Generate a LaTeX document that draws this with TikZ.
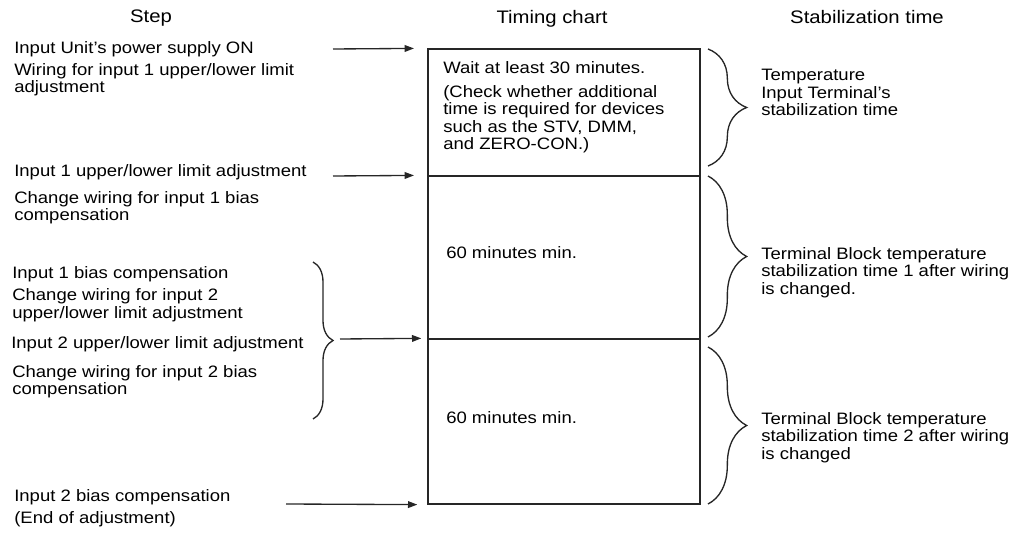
\documentclass[tikz,border=0pt]{standalone}
\usepackage{fontspec}
\setmainfont[FakeStretch=1.12]{Liberation Sans}
\usetikzlibrary{arrows.meta,decorations.pathreplacing,fit}
\newcommand{\chartfont}{\fontsize{12.4}{13.1}\selectfont}
\newcommand{\headfont}{\fontsize{13.6}{14}\selectfont}
\tikzset{
  head/.style={anchor=north, inner sep=0pt, font=\headfont},
  steptxt/.style={anchor=north west, inner sep=0pt, align=left, font=\chartfont},
  sect/.style={draw=black!85, line width=1pt, inner sep=0pt},
  flowarr/.style={-{Triangle[length=7pt,width=5pt]}, line width=1pt, draw=black!85},
  curly/.style={decorate, decoration={brace, amplitude=#1}, line width=1pt, draw=black!85},
}
\begin{document}
\begin{tikzpicture}[x=0.75pt,y=-0.75pt]
  \useasboundingbox (0,0) rectangle (1018,534);
  % column heads
  \node[head] (hstep) at (151,10) {Step};
  \node[head] (htime) at (552,10) {Timing chart};
  \node[head] (hstab) at (867,10) {Stabilization time};
  % timing chart
  \node[sect,fit={(428,49) (700,176)}] (sec1) {};
  \node[sect,fit={(428,176) (700,339)}] (sec2) {};
  \node[sect,fit={(428,339) (700,504)}] (sec3) {};
  \node[steptxt] (wait) at (443,61) {Wait at least 30 minutes.};
  \node[steptxt] (check) at (443,85) {(Check whether additional\\time is required for devices\\such as the STV, DMM,\\and ZERO-CON.)};
  \node[steptxt] (min1) at (446,246) {60 minutes min.};
  \node[steptxt] (min2) at (446,411) {60 minutes min.};
  % steps
  \node[steptxt] (s1) at (14,41) {Input Unit's power supply ON};
  \node[steptxt] (s2) at (14,63) {Wiring for input 1 upper/lower limit\\adjustment};
  \node[steptxt] (s3) at (14,164.5) {Input 1 upper/lower limit adjustment};
  \node[steptxt] (s4) at (14,191) {Change wiring for input 1 bias\\compensation};
  \node[steptxt] (s5) at (12,266) {Input 1 bias compensation};
  \node[steptxt] (s6) at (12,288.5) {Change wiring for input 2\\upper/lower limit adjustment};
  \node[steptxt] (s7) at (11,336) {Input 2 upper/lower limit adjustment};
  \node[steptxt] (s8) at (12,365) {Change wiring for input 2 bias\\compensation};
  \node[steptxt] (s9) at (14,489.5) {Input 2 bias compensation};
  \node[steptxt] (s10) at (14,511.5) {(End of adjustment)};
  % stabilization times
  \node[steptxt] (stab1) at (761,69) {Temperature\\Input Terminal's\\stabilization time};
  \node[steptxt] (stab2) at (761,247) {Terminal Block temperature\\stabilization time 1 after wiring\\is changed.};
  \node[steptxt] (stab3) at (761,412) {Terminal Block temperature\\stabilization time 2 after wiring\\is changed};
  % arrows into the chart
  \coordinate (a1) at (333,49);
  \coordinate (a2) at (333,176);
  \coordinate (a3) at (340,339);
  \coordinate (a4) at (286,504);
  \draw[flowarr,shorten >=10pt] (a1) -- (sec1.north west);
  \draw[flowarr,shorten >=10pt] (a2) -- (sec2.north west);
  \draw[flowarr,shorten >=4.5pt] (a3) -- (sec3.north west);
  \draw[flowarr,shorten >=7.5pt] (a4) -- (sec3.south west);
  % braces
  \draw[curly=15pt] (313,262) -- (313,419);
  \draw[curly=29pt] (708,49) -- (708,166);
  \draw[curly=29pt] (708,176) -- (708,337);
  \draw[curly=29pt] (708,347) -- (708,504);
\end{tikzpicture}
\end{document}
